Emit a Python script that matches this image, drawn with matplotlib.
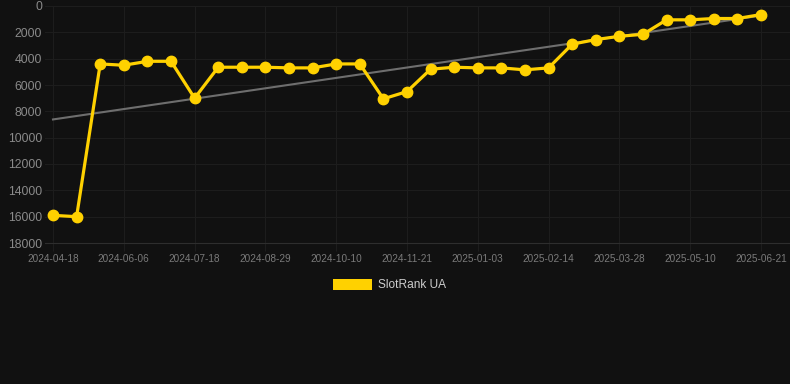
import matplotlib
matplotlib.use("Agg")
import matplotlib.pyplot as plt
import numpy as np
from matplotlib.patches import Rectangle

plt.rcParams['font.family'] = ['Liberation Sans', 'DejaVu Sans']

tick_labels = ["2024-04-18", "2024-06-06", "2024-07-18", "2024-08-29", "2024-10-10",
               "2024-11-21", "2025-01-03", "2025-02-14", "2025-03-28", "2025-05-10",
               "2025-06-21"]
ranks = [15900, 16000, 4400, 4500, 4200, 4200, 7000, 4650, 4650, 4650, 4700,
         4700, 4400, 4400, 7050, 6500, 4800, 4650, 4700, 4700, 4850, 4700,
         2900, 2550, 2300, 2150, 1050, 1050, 950, 950, 650]
series_name = "SlotRank UA"

BG = "#111111"
GOLD = "#FFD100"

W, H = 790, 384
fig = plt.figure(figsize=(W / 100, H / 100), dpi=100, facecolor=BG)
ax = fig.add_axes([45 / W, 1 - 243 / H, (W - 45) / W, (243 - 6) / H])
ax.set_facecolor(BG)

x = np.arange(len(ranks))
coef = np.polyfit(x, ranks, 1)
trend = np.polyval(coef, x)
ax.plot(x, trend, color="#6e6e6e", lw=1.5, zorder=2)
ax.plot(x, ranks, color=GOLD, lw=2.3, marker="o", ms=7.5, mfc=GOLD, mec=GOLD, zorder=3)

ax.set_ylim(18000, 0)
ax.set_yticks(np.arange(0, 18001, 2000))
ax.set_xlim((45 - 53) / 23.6, (790 - 53) / 23.6)
ax.set_xticks(x[::3])
ax.set_xticklabels(tick_labels)

ax.grid(True, color="#1d1d1d", lw=0.8, zorder=0)
for s in ["top", "right", "left"]:
    ax.spines[s].set_visible(False)
ax.spines["bottom"].set_color("#2e2e2e")
ax.spines["bottom"].set_linewidth(0.8)

ax.tick_params(axis="y", length=0, pad=2, labelsize=8.8, labelcolor="#8a8a8a")
ax.tick_params(axis="x", length=6, color="#1d1d1d", pad=2, labelsize=7.2, labelcolor="#7a7a7a")

# legend
fig.patches.append(Rectangle((333 / W, 1 - 290 / H), 39 / W, 11 / H,
                             transform=fig.transFigure, facecolor=GOLD, edgecolor="none"))
fig.text(378 / W, 1 - 285 / H, series_name, color="#cccccc", fontsize=8.6, va="center", ha="left")

fig.savefig("out.png", dpi=100, facecolor=BG)
